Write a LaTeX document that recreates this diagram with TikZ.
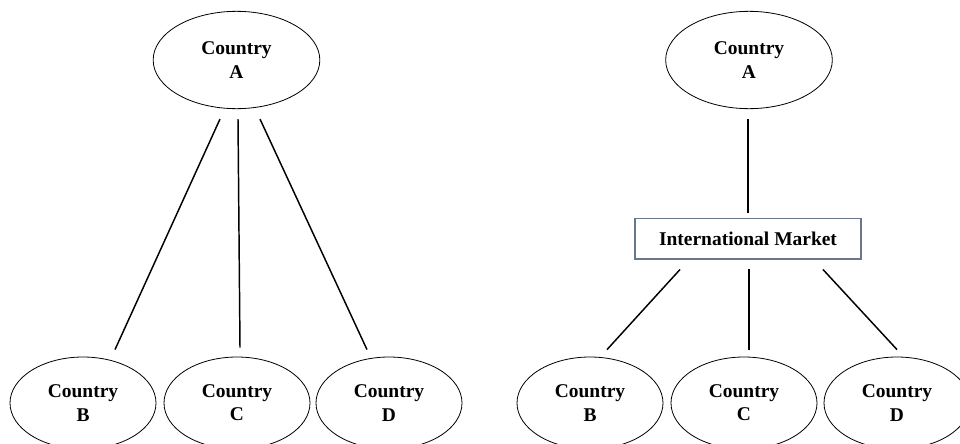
\documentclass[tikz,border=0pt]{standalone}
\usepackage{fontspec}
\setmainfont{Liberation Serif}
\usetikzlibrary{calc}
\usetikzlibrary{shapes.geometric}

\definecolor{boxline}{RGB}{105,118,142}

\begin{document}
\begin{tikzpicture}[x=0.75pt,y=-0.75pt,
    txt/.style={align=center,font=\bfseries\fontsize{14.6}{17.4}\selectfont},
    country/.style={txt,ellipse,draw,line width=0.6pt,inner sep=0pt,
        minimum width=109.5pt,minimum height=69pt},
    top/.style={country,minimum width=125pt,minimum height=73pt},
    market/.style={txt,draw=boxline,line width=1pt,inner sep=0pt,
        minimum width=169.5pt,minimum height=30.5pt},
    link/.style={line width=1.1pt}]
            \clip (0,0) rectangle (960,443);
            % direct trade
            \node[top] (lA) at (236.5,60) {Country\\A};
            % trade through the market
            \node[top] (rA) at (749,60) {Country\\A};
            \node[market] (im) at (748,238.5) {International Market};
            \foreach \n/\x/\t in {lB/83/B,lC/237/C,lD/389/D,rB/590/B,rC/744/C,rD/897/D}
                \node[country] (\n) at (\x,403) {Country\\\t};
            \draw[link] ($(lA.south)+(-16.5,10)$) -- ($(lB.north)+(32,-7)$);
            \draw[link] ($(lA.south)+(1.5,10)$) -- ($(lC.north)+(3,-9)$);
            \draw[link] ($(lA.south)+(23.5,10)$) -- ($(lD.north)+(-22,-7)$);
            \draw[link] ($(rA.south)+(-1,10)$) -- ($(im.north)+(0,-5)$);
            \draw[link] ($(im.south)+(-68,10)$) -- ($(rB.north)+(17,-7)$);
            \draw[link] ($(im.south)+(1,9)$) -- ($(rC.north)+(5,-7)$);
            \draw[link] ($(im.south)+(75,10)$) -- ($(rD.north)+(0,-7)$);
        \end{tikzpicture}
\end{document}
